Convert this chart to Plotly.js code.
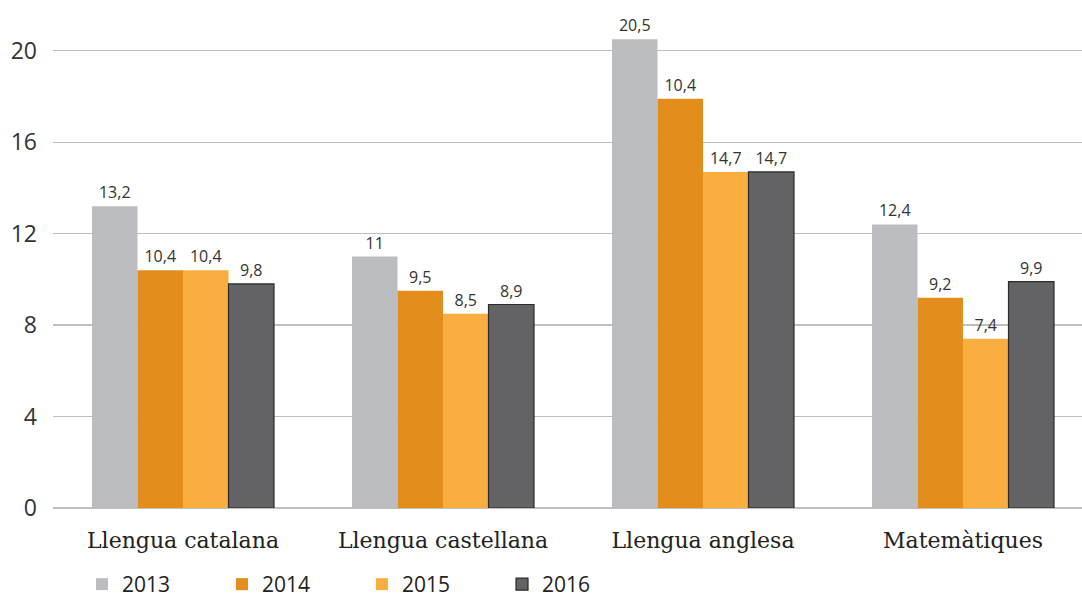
<!DOCTYPE html>
<html>
<head>
<meta charset="utf-8">
<script src="https://cdn.plot.ly/plotly-3.0.1.min.js"></script>
<style>html,body{margin:0;padding:0;background:#fff;}#chart{width:1082px;height:599px;}</style>
</head>
<body>
<div id="chart"></div>
<script>
const categories = ["Llengua catalana", "Llengua castellana", "Llengua anglesa", "Matemàtiques"];
const years = ["2013", "2014", "2015", "2016"];
const values2013 = [13.2, 11, 20.5, 12.4];
const values2014 = [10.4, 9.5, 17.9, 9.2];
const values2015 = [10.4, 8.5, 14.7, 7.4];
const values2016 = [9.8, 8.9, 14.7, 9.9];
const labels2013 = ["13,2", "11", "20,5", "12,4"];
const labels2014 = ["10,4", "9,5", "10,4", "9,2"];
const labels2015 = ["10,4", "8,5", "14,7", "7,4"];
const labels2016 = ["9,8", "8,9", "14,7", "9,9"];
const yTicks = [0, 4, 8, 12, 16, 20];

const colors = ["#bcbdc0", "#e38e1c", "#fbae40", "#636365"];
const series = [values2013, values2014, values2015, values2016];
const labels = [labels2013, labels2014, labels2015, labels2016];

const plotLeft = 53, plotWidth = 1082 - 53;

const traces = series.map((vals, i) => ({
  type: "bar",
  name: years[i],
  x: categories,
  y: vals,
  text: labels[i],
  textposition: "outside",
  cliponaxis: false,
  textfont: {family: "Open Sans, sans-serif", size: 16, color: "#333333"},
  marker: {color: colors[i], line: {color: i === 3 ? "#2a2a2a" : colors[i], width: i === 3 ? 1.2 : 0}},
  hoverinfo: "skip"
}));

const layout = {
  width: 1082, height: 599,
  margin: {l: plotLeft, r: 0, t: 5, b: 91, autoexpand: false},
  paper_bgcolor: "#ffffff", plot_bgcolor: "#ffffff",
  barmode: "group", bargap: 0.3, bargroupgap: 0,
  font: {family: "Open Sans, sans-serif", color: "#333333"},
  xaxis: {
    type: "category",
    range: [-0.5, 3.5 - 11/260],
    showgrid: false, zeroline: false, showline: false, ticks: "",
    tickfont: {family: "DejaVu Serif, serif", size: 22, color: "#222222"},
    ticklabelstandoff: 17,
    automargin: false
  },
  yaxis: {
    range: [0, 22],
    tickvals: yTicks,
    ticktext: yTicks.map(String),
    showgrid: true, gridcolor: "#bfbfbf", gridwidth: 1.3,
    zeroline: true, zerolinecolor: "#bfbfbf", zerolinewidth: 1.3,
    showline: false, ticks: "",
    tickfont: {family: "Open Sans, sans-serif", size: 23, color: "#333333"},
    ticklabelstandoff: 15,
    automargin: false
  },
  showlegend: true,
  legend: {
    orientation: "h",
    xref: "paper", yref: "container",
    x: (82 - plotLeft) / plotWidth, xanchor: "left",
    y: 1 - 564 / 599, yanchor: "top",
    entrywidth: 95, entrywidthmode: "pixels",
    font: {family: "Open Sans, sans-serif", size: 21, color: "#222222"},
    bgcolor: "rgba(0,0,0,0)", borderwidth: 0,
    traceorder: "normal"
  }
};

Plotly.newPlot("chart", traces, layout, {displayModeBar: false, staticPlot: true});
</script>
</body>
</html>
